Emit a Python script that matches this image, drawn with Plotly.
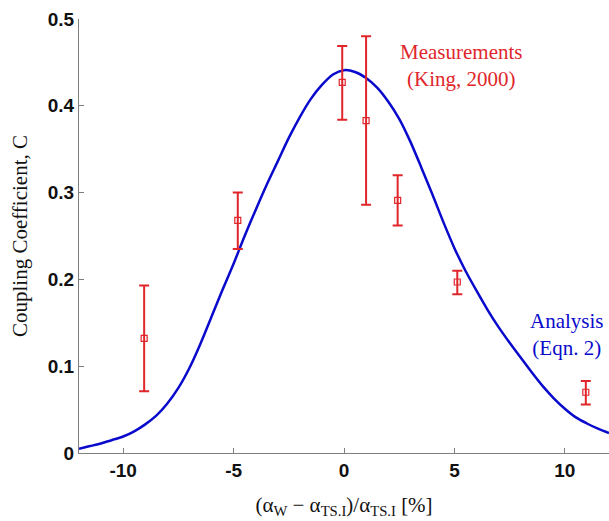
import plotly.graph_objects as go

# Analysis curve (Eqn. 2)
curve_x = [-12, -11.5, -11, -10.5, -10, -9.5, -9, -8.5, -8, -7.5, -7, -6.5, -6, -5.5, -5,
           -4.5, -4, -3.5, -3, -2.5, -2, -1.5, -1, -0.5, 0,
           0.5, 1, 1.5, 2, 2.5, 3, 3.5, 4, 4.5, 5, 5.5, 6, 6.5, 7, 7.5, 8,
           8.5, 9, 9.5, 10, 10.5, 11, 11.5, 12]
curve_c = [0.005, 0.008, 0.011, 0.015, 0.019, 0.025, 0.033, 0.043, 0.057, 0.075, 0.098, 0.126, 0.157, 0.188, 0.218,
           0.250, 0.280, 0.309, 0.336, 0.363, 0.387, 0.408, 0.424, 0.436, 0.441,
           0.439, 0.432, 0.421, 0.405, 0.385, 0.359, 0.329, 0.298, 0.266, 0.236, 0.210, 0.187, 0.165, 0.145, 0.127, 0.110,
           0.093, 0.077, 0.063, 0.051, 0.041, 0.034, 0.028, 0.023]

# Measurements (King, 2000)
meas_x = [-9.05, -4.81, -0.08, 1.0, 2.43, 5.13, 10.95]
meas_c = [0.132, 0.268, 0.427, 0.383, 0.291, 0.197, 0.070]
meas_hi = [0.193, 0.300, 0.469, 0.480, 0.320, 0.210, 0.083]
meas_lo = [0.071, 0.235, 0.384, 0.286, 0.262, 0.183, 0.056]

x_ticks = [-10, -5, 0, 5, 10]
y_ticks = [0, 0.1, 0.2, 0.3, 0.4, 0.5]
y_tick_text = ["0", "0.1", "0.2", "0.3", "0.4", "0.5"]

RED = "#e0262b"
BLUE = "#0a0acc"

fig = go.Figure()
fig.add_trace(go.Scatter(
    x=curve_x, y=curve_c, mode="lines",
    line=dict(color=BLUE, width=2.5, shape="spline", smoothing=0.8),
    hoverinfo="skip", showlegend=False))
fig.add_trace(go.Scatter(
    x=meas_x, y=meas_c, mode="markers",
    marker=dict(symbol="square-open", size=6, color=RED, line=dict(width=1.2, color=RED)),
    error_y=dict(type="data", symmetric=False,
                 array=[h - c for h, c in zip(meas_hi, meas_c)],
                 arrayminus=[c - l for l, c in zip(meas_lo, meas_c)],
                 color=RED, thickness=2, width=5),
    showlegend=False))

serif = "Liberation Serif, Times New Roman, serif"
sans = "Liberation Sans, Arial, sans-serif"
fig.add_annotation(x=5.3, y=0.447, xref="x", yref="y",
                   text="Measurements<br>(King, 2000)", showarrow=False,
                   font=dict(family=serif, size=21, color=RED), align="center")
fig.add_annotation(x=10.12, y=0.137, xref="x", yref="y", xanchor="center",
                   text="Analysis<br>(Eqn. 2)", showarrow=False,
                   font=dict(family=serif, size=21, color=BLUE), align="center")

fig.update_layout(
    width=609, height=521,
    margin=dict(l=79, r=0, t=19, b=68),
    plot_bgcolor="white", paper_bgcolor="white",
    xaxis=dict(range=[-12, 12], tickvals=x_ticks, ticktext=[str(v) for v in x_ticks],
               automargin=False,
               showgrid=False, zeroline=False, showline=True, linecolor="#7f7f7f", linewidth=1,
               ticks="inside", ticklen=5, tickcolor="#7f7f7f",
               tickfont=dict(family=sans, size=19, color="#111111", weight="bold"),
               title=dict(text="(α<sub>W</sub> − α<sub>TS.I</sub>)/α<sub>TS.I</sub> [%]",
                          font=dict(family=serif, size=21, color="#111111"), standoff=17)),
    yaxis=dict(range=[0, 0.5], tickvals=y_ticks, ticktext=y_tick_text,
               automargin=False,
               showgrid=False, zeroline=False, showline=True, linecolor="#7f7f7f", linewidth=1,
               ticks="inside", ticklen=5, tickcolor="#7f7f7f",
               tickfont=dict(family=sans, size=19, color="#111111", weight="bold"),
               title=dict(text="Coupling Coefficient, C",
                          font=dict(family=serif, size=21, color="#111111"), standoff=14)),
)

fig.write_html("out.html", config={"displayModeBar": False},
               post_script="document.body.style.margin='0px';document.body.style.overflow='hidden';")
